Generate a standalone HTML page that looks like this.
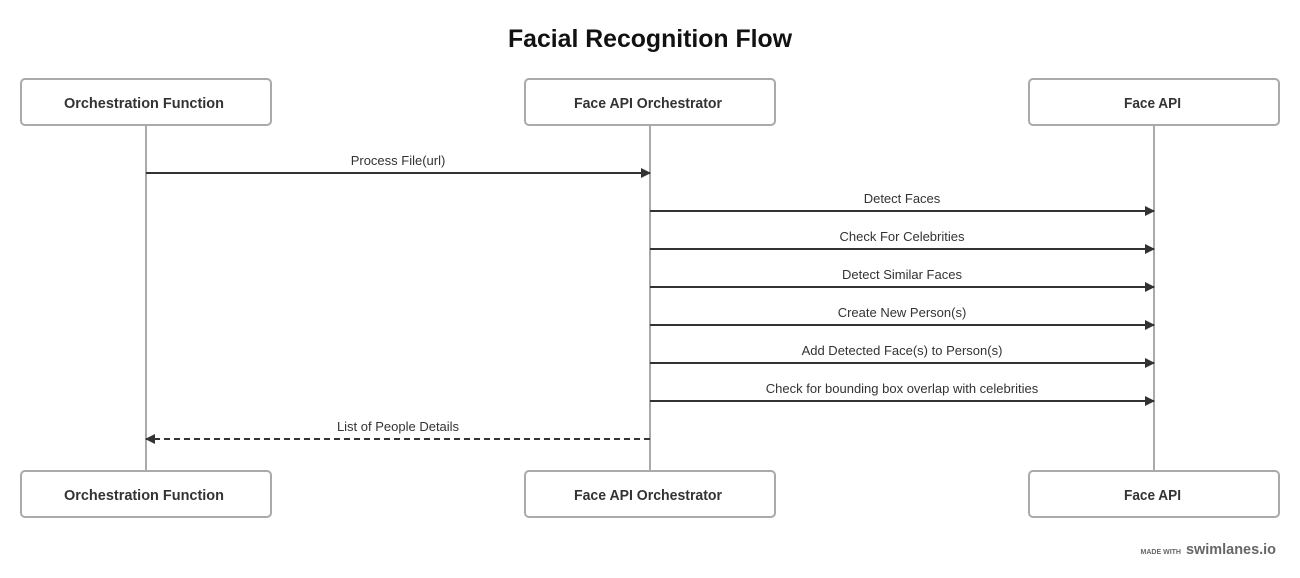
<!DOCTYPE html>
<html><head><meta charset="utf-8"><style>
html,body{margin:0;padding:0;background:#fff;}
svg{display:block;font-family:"Liberation Sans",sans-serif;}
</style></head><body>
<svg width="1300" height="578" viewBox="0 0 1300 578" xmlns="http://www.w3.org/2000/svg">
<defs>
<marker id="a" markerWidth="10" markerHeight="12" refX="9" refY="6" orient="auto" markerUnits="userSpaceOnUse">
<path d="M0,1 L10,6 L0,11 Z" fill="#333"/></marker>
</defs>
<text x="508" y="47" font-size="25" font-weight="bold" fill="#111" textLength="284" lengthAdjust="spacingAndGlyphs">Facial Recognition Flow</text>
<g stroke="#aaa" stroke-width="2">
<line x1="146" y1="125" x2="146" y2="471"/>
<line x1="650" y1="125" x2="650" y2="471"/>
<line x1="1154" y1="125" x2="1154" y2="471"/>
</g>
<g fill="#fff" stroke="#aaa" stroke-width="2">
<rect x="21" y="79" width="250" height="46" rx="4"/>
<rect x="525" y="79" width="250" height="46" rx="4"/>
<rect x="1029" y="79" width="250" height="46" rx="4"/>
<rect x="21" y="471" width="250" height="46" rx="4"/>
<rect x="525" y="471" width="250" height="46" rx="4"/>
<rect x="1029" y="471" width="250" height="46" rx="4"/>
</g>
<g font-size="14.5" font-weight="bold" fill="#333">
<text x="64" y="108" textLength="160" lengthAdjust="spacingAndGlyphs">Orchestration Function</text>
<text x="574" y="108" textLength="148" lengthAdjust="spacingAndGlyphs">Face API Orchestrator</text>
<text x="1124" y="108" textLength="57" lengthAdjust="spacingAndGlyphs">Face API</text>
<text x="64" y="500" textLength="160" lengthAdjust="spacingAndGlyphs">Orchestration Function</text>
<text x="574" y="500" textLength="148" lengthAdjust="spacingAndGlyphs">Face API Orchestrator</text>
<text x="1124" y="500" textLength="57" lengthAdjust="spacingAndGlyphs">Face API</text>
</g>
<g stroke="#333" stroke-width="2" marker-end="url(#a)">
<line x1="146" y1="173" x2="650" y2="173"/>
<line x1="650" y1="211" x2="1154" y2="211"/>
<line x1="650" y1="249" x2="1154" y2="249"/>
<line x1="650" y1="287" x2="1154" y2="287"/>
<line x1="650" y1="325" x2="1154" y2="325"/>
<line x1="650" y1="363" x2="1154" y2="363"/>
<line x1="650" y1="401" x2="1154" y2="401"/>
<line x1="650" y1="439" x2="146" y2="439" stroke-dasharray="6,4"/>
</g>
<g font-size="13" fill="#333" text-anchor="middle">
<text x="398" y="165">Process File(url)</text>
<text x="902" y="203">Detect Faces</text>
<text x="902" y="241">Check For Celebrities</text>
<text x="902" y="279">Detect Similar Faces</text>
<text x="902" y="317">Create New Person(s)</text>
<text x="902" y="355">Add Detected Face(s) to Person(s)</text>
<text x="902" y="393">Check for bounding box overlap with celebrities</text>
<text x="398" y="431">List of People Details</text>
</g>
<text x="1181" y="554" text-anchor="end" font-size="7" font-weight="bold" fill="#666">MADE WITH</text>
<text x="1186" y="554" font-size="15" font-weight="bold" fill="#666" textLength="90" lengthAdjust="spacingAndGlyphs">swimlanes.io</text>
</svg>
</body></html>
